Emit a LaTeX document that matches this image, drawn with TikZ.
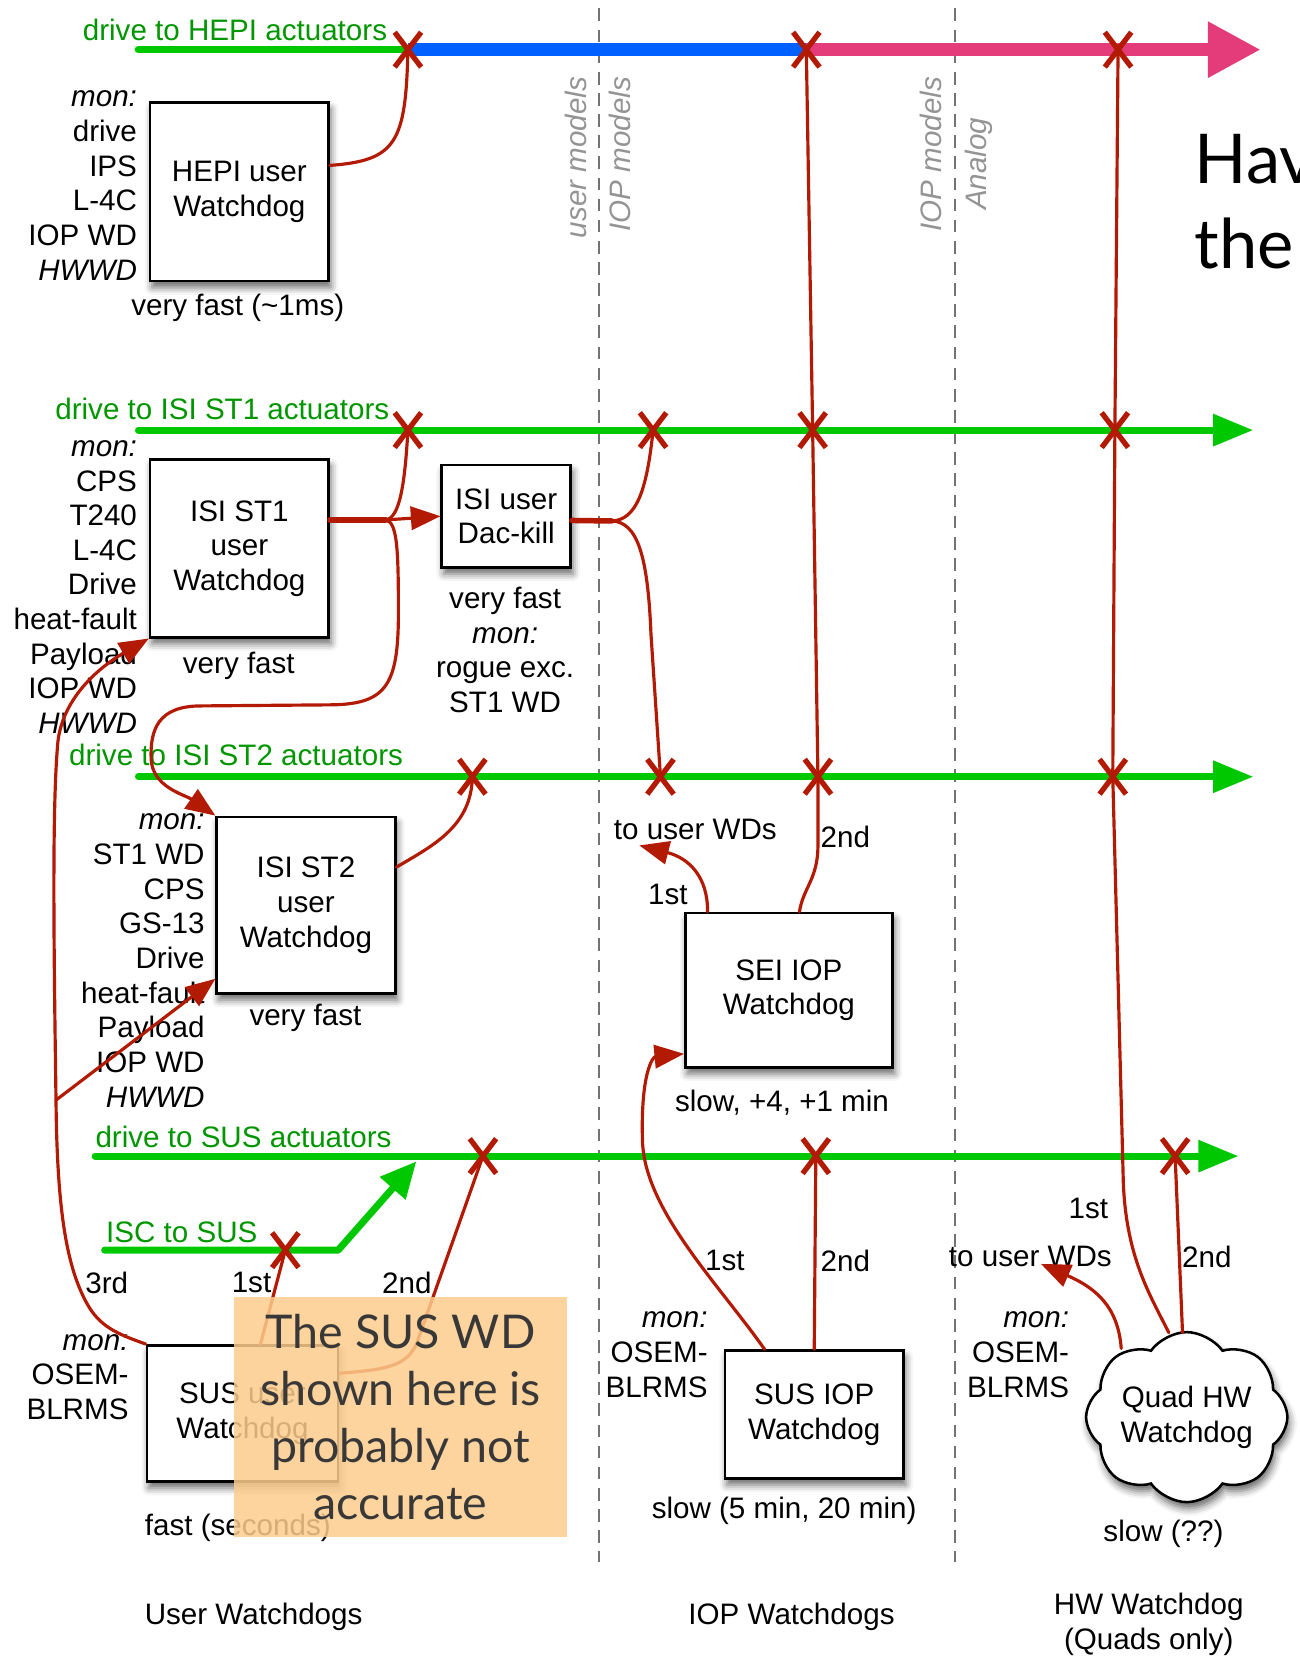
\documentclass[tikz,border=0pt]{standalone}
\usepackage{fontspec}
\setmainfont{Liberation Sans}
\newfontfamily\notefont{Lato}
\usetikzlibrary{arrows.meta,shapes.misc,shapes.symbols,shadows.blur}
\definecolor{wdred}{RGB}{178,26,4}
\definecolor{drvgreen}{RGB}{0,200,0}
\definecolor{txtgreen}{RGB}{0,150,0}
\definecolor{hepiblue}{RGB}{0,96,255}
\definecolor{hepipink}{RGB}{228,60,122}
\definecolor{notefill}{RGB}{253,204,140}

\begin{document}
\begin{tikzpicture}[x=0.5pt, y=-0.5pt, font=\fontsize{14}{16.4}\selectfont,
  >={Triangle[length=14pt,width=11pt]},
  wd/.style={draw, line width=1.2pt, fill=white, align=center, inner sep=0pt,
    blur shadow={shadow xshift=1pt, shadow yshift=-3pt, shadow blur radius=3.5pt, shadow opacity=60}},
  xm/.style={cross out, draw=wdred, line width=2.5pt, minimum width=10pt, minimum height=14pt, inner sep=0pt},
  wire/.style={draw=wdred, line width=1.5pt, line cap=round, line join=round},
  drv/.style={draw=drvgreen, line width=3.3pt, line cap=round, line join=round},
  drvlbl/.style={text=txtgreen, anchor=west, inner sep=0pt},
  mon/.style={anchor=east, align=right, inner sep=0pt},
  divider/.style={draw=black!55, line width=0.9pt, dash pattern=on 6pt off 4pt},
  divlbl/.style={rotate=90, text=black!42, font=\fontsize{14}{16}\selectfont\itshape}]
\useasboundingbox (0,0) rectangle (1230,1568);
\clip (0,0) rectangle (1230,1568);

% ends of the drive lines
\coordinate (hepi0) at (131,47);  \coordinate (hepi9) at (1193,47);
\coordinate (st10) at (131,407);  \coordinate (st19) at (1186,407);
\coordinate (st20) at (131,735);  \coordinate (st29) at (1186,735);
\coordinate (sus0) at (90,1094);  \coordinate (sus9) at (1172,1094);
\coordinate (isc0) at (99,1183);  \coordinate (iscbend) at (320,1183);
\coordinate (isc9) at (394,1099);
% trip points on the drive lines
\foreach \n/\x/\y in {hx1/386/47, hx2/763/47, hx3/1058/47,
    ax1/386/407, ax2/618/407, ax3/769/407, ax4/1055/407,
    bx1/447/735, bx2/625/735, bx3/774/735, bx4/1053/735,
    cx1/457/1094, cx2/772/1094, cx3/1112/1094, ix/270/1183}{
  \coordinate (\n) at (\x,\y);
}

% model boundaries
\foreach \x in {567,904}{
  \draw[divider] (\x,8) -- (\x,1478);
}
% drive lines
\draw[drv, line width=3.6pt] (hepi0) -- (hx1);
\draw[hepiblue, line width=6pt] (hx1) -- (hx2);
\draw[hepipink, line width=6pt, -{Triangle[length=25pt,width=25pt]}] (hx2) -- (hepi9);
\draw[drv, -{Triangle[length=19pt,width=14.5pt]}] (st10) -- (st19);
\draw[drv, -{Triangle[length=19pt,width=14.5pt]}] (st20) -- (st29);
\draw[drv, -{Triangle[length=19pt,width=14.5pt]}] (sus0) -- (sus9);
\draw[drv, -{Triangle[length=17pt,width=15.5pt]}] (isc0) -- (iscbend) -- (isc9);

% cut marks
\foreach \n in {hx1,hx2,hx3,ax1,ax2,ax3,ax4,bx1,bx2,bx3,bx4,cx1,cx2,cx3,ix}{
  \node[xm] (\n cut) at (\n) {};
}

\node[divlbl] (um) at (545,149) {user models};
\node[divlbl] (iopa) at (587,146) {IOP models};
\node[divlbl] (iopb) at (881,146) {IOP models};
\node[divlbl] (ana) at (926,155) {Analog};

\node[drvlbl] (dhepi) at (78,28) {drive to HEPI actuators};
\node[drvlbl] (dst1) at (52,387) {drive to ISI ST1 actuators};
\node[drvlbl] (dst2) at (65,714) {drive to ISI ST2 actuators};
\node[drvlbl] (dsus) at (90,1076) {drive to SUS actuators};
\node[drvlbl] (disc) at (100,1166) {ISC to SUS};

% watchdogs
\node[wd, minimum width=84.5pt, minimum height=84.5pt] (hepi) at (226.5,181.5) {HEPI user\\Watchdog};
\node[wd, minimum width=84.5pt, minimum height=84pt] (st1) at (226.5,519) {ISI ST1\\user\\Watchdog};
\node[wd, minimum width=61pt, minimum height=48.5pt] (dac) at (479,488.5) {ISI user\\Dac-kill};
\node[wd, minimum width=84.5pt, minimum height=83.5pt] (st2) at (289.5,856.5) {ISI ST2\\user\\Watchdog};
\node[wd, minimum width=98pt, minimum height=73pt] (sei) at (746.5,937) {SEI IOP\\Watchdog};
\node[wd, minimum width=90.5pt, minimum height=64.5pt] (sususer) at (229.5,1337.5) {SUS user\\Watchdog};
\node[wd, minimum width=84.5pt, minimum height=60.5pt] (susiop) at (770.5,1338.5) {SUS IOP\\Watchdog};
\node[wd, cloud, cloud puffs=8, cloud puff arc=110, aspect=1.3, minimum width=92pt, minimum height=70pt] (quad) at (1123,1341) {Quad HW\\Watchdog};

% monitored signals
\node[mon] (monhepi) at (130,175.5) {\textit{mon:}\\drive\\IPS\\L-4C\\IOP WD\\\textit{HWWD}};
\node[mon] (monst1) at (130,555.5) {\textit{mon:}\\CPS\\T240\\L-4C\\Drive\\heat-fault\\Payload\\IOP WD\\\textit{HWWD}};
\node[mon] (monst2) at (194,909) {\textit{mon:}\\ST1 WD\\CPS\\GS-13\\Drive\\heat-fault\\Payload\\IOP WD\\\textit{HWWD}};
\node[mon] (monsus) at (122,1303) {\textit{mon:}\\OSEM-\\BLRMS};
\node[mon] (moniop) at (670,1282) {\textit{mon:}\\OSEM-\\BLRMS};
\node[mon] (monquad) at (1012,1282) {\textit{mon:}\\OSEM-\\BLRMS};

% speeds and trip order
\node (vf1) at (225,291) {very fast (\textasciitilde1ms)};
\node (vf2) at (226,630) {very fast};
\node[align=center] (vf3) at (478,615) {very fast\\\textit{mon:}\\rogue exc.\\ST1 WD};
\node (vf4) at (289,963) {very fast};
\node (seiusr) at (658,785) {to user WDs};
\node (sei1) at (632,846) {1st};
\node (sei2) at (800,792) {2nd};
\node (seislow) at (740,1043) {slow, +4, +1 min};
\node (sus3) at (101,1214) {3rd};
\node (sus1) at (238,1214) {1st};
\node (sus2) at (385,1214) {2nd};
\node (iop1) at (686,1193) {1st};
\node (iop2) at (800,1193) {2nd};
\node (quadusr) at (975,1189) {to user WDs};
\node (quad1) at (1030,1144) {1st};
\node (quad2) at (1142,1189) {2nd};
\node (susfast) at (225,1446) {fast (seconds)};
\node (iopslow) at (742,1430) {slow (5 min, 20 min)};
\node (quadslow) at (1101,1451) {slow (??)};
\node (coluser) at (240,1530) {User Watchdogs};
\node (coliop) at (749,1530) {IOP Watchdogs};
\node[align=center] (colhw) at (1087,1537) {HW Watchdog\\(Quads only)};

% HEPI trip
\draw[wire] ([shift={(0,-25)}]hepi.east) .. controls (375,152) and (384,135) .. (hx1);
% ISI ST1 trip
\coordinate (st1split) at (365,492);
\draw[wire, line width=2.6pt] ([shift={(0,-27)}]st1.east) -- (st1split);
\draw[wire] (st1split) .. controls (378,490) and (383,460) .. (ax1);
\draw[wire, ->] (st1split) -- (dac.west);
\draw[wire, ->] (st1split) .. controls (376,494) and (377,520) .. (377,580)
  .. controls (377,650) and (365,667) .. (310,667) -- (190,668)
  .. controls (150,668) and (142,690) .. (143,718)
  .. controls (144,745) and (175,752) .. (st2.north west);
% Dac-kill
\coordinate (dacsplit) at (579,493);
\draw[wire, line width=2.6pt] ([shift={(0,4)}]dac.east) -- (dacsplit);
\draw[wire] (dacsplit) .. controls (602,492) and (612,465) .. (ax2);
\draw[wire] (dacsplit) .. controls (603,494) and (613,525) .. (616,600) -- (bx2);
% ISI ST2 trip
\draw[wire] ([shift={(0,-36)}]st2.east) .. controls (410,800) and (446,782) .. (bx1);
% SUS user trips
\coordinate (br3) at (53,1041);
\draw[wire] ([shift={(17,0)}]sususer.north) -- (ix);
\draw[wire] ([shift={(0,-38)}]sususer.east) .. controls (365,1296) and (384,1293) .. (394,1272) -- (cx1);
\draw[wire, ->] (sususer.north west) .. controls (110,1262) and (94,1255) .. (82,1233)
  .. controls (64,1200) and (54,1150) .. (br3)
  .. controls (51,900) and (49,760) .. (55,700)
  .. controls (62,650) and (110,622) .. (st1.south west);
\draw[wire, ->] (br3) -- ([shift={(0,-15)}]st2.south west);
% SEI IOP trips
\coordinate (seitouser) at (605,800);
\draw[wire, ->] ([shift={(-77,0)}]sei.north) .. controls (670,830) and (652,812) .. (seitouser);
\draw[wire] ([shift={(10,0)}]sei.north) .. controls (760,840) and (774,832) .. (774,800)
  -- (bx3) -- (ax3) -- (hx2);
% SUS IOP trips
\draw[wire, ->] ([shift={(-47,0)}]susiop.north) .. controls (680,1215) and (610,1145) .. (608,1080)
  .. controls (606,1015) and (618,1000) .. ([shift={(0,-14)}]sei.south west);
\draw[wire] (susiop.north) -- (cx2);
% Quad HW trips
\coordinate (quadtouser) at (985,1196);
\draw[wire, ->] ([shift={(-62,-65)}]quad.center) .. controls (1058,1235) and (1035,1218) .. (quadtouser);
\draw[wire] ([shift={(-17,-80)}]quad.center) .. controls (1088,1225) and (1066,1190) .. (1063,1120)
  -- (bx4) -- (ax4) -- (hx3);
\draw[wire] ([shift={(-4,-80)}]quad.center) -- (cx3);

\node[anchor=west, align=left, inner sep=0pt, font=\notefont\fontsize{32.5}{40}\selectfont] (title) at (1130,191) {Have\\the};

% note on top
\node[fill=notefill, fill opacity=0.85, text opacity=1, text=black!78, align=center, inner sep=0pt,
  minimum width=158pt, minimum height=113.5pt, font=\notefont\fontsize{22}{27}\selectfont] (note) at (379,1341)
  {The SUS WD\\shown here is\\probably not\\accurate};
\end{tikzpicture}
\end{document}
